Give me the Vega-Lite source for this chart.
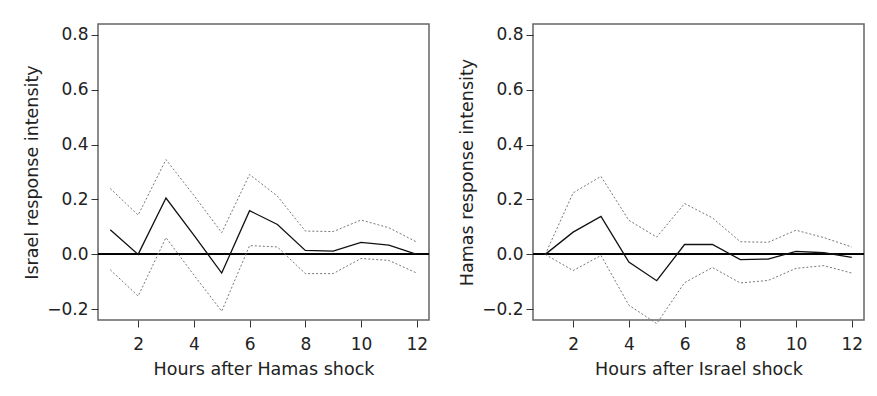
{
  "$schema": "https://vega.github.io/schema/vega-lite/v6.json",
  "padding": {"left": 22, "top": 23, "right": 0, "bottom": 0},
  "background": "white",
  "datasets": {
    "israel": [
      {"hour": 1, "est": 0.090, "lo": -0.056, "hi": 0.240},
      {"hour": 2, "est": 0.000, "lo": -0.152, "hi": 0.143},
      {"hour": 3, "est": 0.205, "lo": 0.061, "hi": 0.345},
      {"hour": 4, "est": 0.070, "lo": -0.075, "hi": 0.215},
      {"hour": 5, "est": -0.068, "lo": -0.207, "hi": 0.079},
      {"hour": 6, "est": 0.159, "lo": 0.032, "hi": 0.291},
      {"hour": 7, "est": 0.109, "lo": 0.027, "hi": 0.212},
      {"hour": 8, "est": 0.0145, "lo": -0.070, "hi": 0.085},
      {"hour": 9, "est": 0.012, "lo": -0.070, "hi": 0.083},
      {"hour": 10, "est": 0.044, "lo": -0.015, "hi": 0.125},
      {"hour": 11, "est": 0.034, "lo": -0.022, "hi": 0.097},
      {"hour": 12, "est": 0.000, "lo": -0.068, "hi": 0.045}
    ],
    "hamas": [
      {"hour": 1, "est": 0.000, "lo": 0.000, "hi": 0.000},
      {"hour": 2, "est": 0.081, "lo": -0.059, "hi": 0.224},
      {"hour": 3, "est": 0.138, "lo": -0.004, "hi": 0.284},
      {"hour": 4, "est": -0.028, "lo": -0.185, "hi": 0.124},
      {"hour": 5, "est": -0.096, "lo": -0.252, "hi": 0.063},
      {"hour": 6, "est": 0.036, "lo": -0.103, "hi": 0.185},
      {"hour": 7, "est": 0.036, "lo": -0.048, "hi": 0.133},
      {"hour": 8, "est": -0.019, "lo": -0.104, "hi": 0.046},
      {"hour": 9, "est": -0.017, "lo": -0.095, "hi": 0.044},
      {"hour": 10, "est": 0.011, "lo": -0.051, "hi": 0.088},
      {"hour": 11, "est": 0.006, "lo": -0.041, "hi": 0.061},
      {"hour": 12, "est": -0.011, "lo": -0.068, "hi": 0.027}
    ]
  },
  "spacing": 26,
  "hconcat": [
    {
      "width": 331,
      "height": 296,
      "data": {"name": "israel"},
      "layer": [
        {"mark": {"type": "rule", "color": "black", "strokeWidth": 1.2}, "encoding": {"y": {"datum": 0, "type": "quantitative"}}},
        {"mark": {"type": "line", "color": "#777", "strokeWidth": 1, "strokeDash": [2, 2]},
         "encoding": {"x": {"field": "hour", "type": "quantitative"}, "y": {"field": "hi", "type": "quantitative"}}},
        {"mark": {"type": "line", "color": "#777", "strokeWidth": 1, "strokeDash": [2, 2]},
         "encoding": {"x": {"field": "hour", "type": "quantitative"}, "y": {"field": "lo", "type": "quantitative"}}},
        {"mark": {"type": "line", "color": "#111", "strokeWidth": 1.3},
         "encoding": {
           "x": {"field": "hour", "type": "quantitative", "scale": {"domain": [0.56, 12.44], "nice": false, "zero": false},
                 "axis": {"values": [2, 4, 6, 8, 10, 12], "title": "Hours after Hamas shock"}},
           "y": {"field": "est", "type": "quantitative", "scale": {"domain": [-0.239, 0.839], "nice": false},
                 "axis": {"values": [-0.2, 0, 0.2, 0.4, 0.6, 0.8], "format": ".1f", "title": "Israel response intensity"}}
         }}
      ]
    },
    {
      "width": 331,
      "height": 296,
      "data": {"name": "hamas"},
      "layer": [
        {"mark": {"type": "rule", "color": "black", "strokeWidth": 1.2}, "encoding": {"y": {"datum": 0, "type": "quantitative"}}},
        {"mark": {"type": "line", "color": "#777", "strokeWidth": 1, "strokeDash": [2, 2]},
         "encoding": {"x": {"field": "hour", "type": "quantitative"}, "y": {"field": "hi", "type": "quantitative"}}},
        {"mark": {"type": "line", "color": "#777", "strokeWidth": 1, "strokeDash": [2, 2]},
         "encoding": {"x": {"field": "hour", "type": "quantitative"}, "y": {"field": "lo", "type": "quantitative"}}},
        {"mark": {"type": "line", "color": "#111", "strokeWidth": 1.3},
         "encoding": {
           "x": {"field": "hour", "type": "quantitative", "scale": {"domain": [0.56, 12.44], "nice": false, "zero": false},
                 "axis": {"values": [2, 4, 6, 8, 10, 12], "title": "Hours after Israel shock"}},
           "y": {"field": "est", "type": "quantitative", "scale": {"domain": [-0.239, 0.839], "nice": false},
                 "axis": {"values": [-0.2, 0, 0.2, 0.4, 0.6, 0.8], "format": ".1f", "title": "Hamas response intensity"}}
         }}
      ]
    }
  ],
  "config": {
    "view": {"stroke": "#666", "strokeWidth": 1.5},
    "axis": {
      "domain": false,
      "grid": false,
      "ticks": true,
      "tickSize": 7,
      "tickColor": "#333",
      "tickWidth": 1,
      "labelFont": "DejaVu Sans",
      "labelFontSize": 17,
      "labelColor": "#222",
      "labelPadding": 3,
      "titleFont": "DejaVu Sans",
      "titleFontSize": 17.5,
      "titleFontWeight": "normal",
      "titleColor": "#222"
    },
    "axisX": {"titlePadding": 8, "labelPadding": 9},
    "axisY": {"titlePadding": 5}
  }
}
